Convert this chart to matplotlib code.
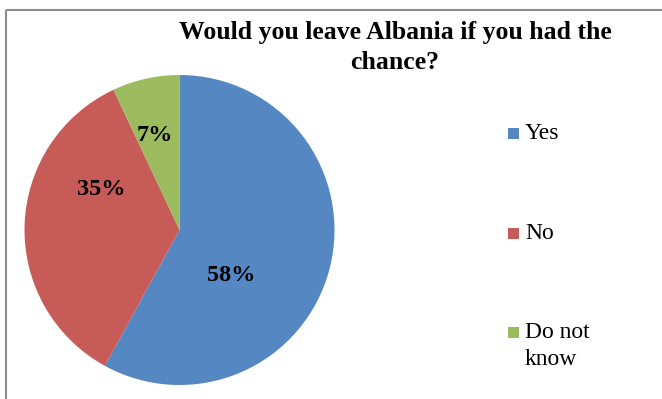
import numpy as np
import matplotlib
matplotlib.use("Agg")
import matplotlib.pyplot as plt
from matplotlib.lines import Line2D

# Survey answers
categories = ["Yes", "No", "Do not\nknow"]
shares = [58, 35, 7]
title = "Would you leave Albania if you had the\nchance?"

colors = ["#5587C3", "#C75B57", "#9CBB5F"]

W, H = 662, 399
fig = plt.figure(figsize=(W / 100, H / 100), dpi=100)
ax = fig.add_axes([0, 0, 1, 1])

def fy(y_from_top):
    return H - y_from_top

center = (179.5, fy(230))
radius = 155

wedges, _ = ax.pie(shares, colors=colors, startangle=90, counterclock=False,
                   center=center, radius=radius,
                   wedgeprops=dict(linewidth=0))

# label placement inside each wedge: (angle in degrees, fraction of radius)
label_pos = [(-41, 0.445), (153, 0.57), (104.9, 0.63)]
for v, (ang, frac) in zip(shares, label_pos):
    a = np.deg2rad(ang)
    ax.text(center[0] + frac * radius * np.cos(a),
            center[1] + frac * radius * np.sin(a),
            f"{v}%", ha="center", va="center",
            family="Liberation Serif", fontweight="bold", fontsize=17.5)

ax.set_xlim(0, W)
ax.set_ylim(0, H)
ax.set_aspect("equal", adjustable="box")
ax.axis("off")

# title
ax.text(395, fy(47.5), title, ha="center", va="center",
        family="Liberation Serif", fontweight="bold", fontsize=18.5,
        linespacing=1.42)

# legend
leg_y = [133, 233, 332]
for c, lab, y in zip(colors, categories, leg_y):
    ax.add_patch(plt.Rectangle((508, fy(y) - 5.5), 11, 11, color=c, lw=0))
    ax.text(525, fy(y) + 10, lab, ha="left", va="top",
            family="Liberation Serif", fontsize=17, linespacing=1.38)

# chart-area border (top and left edges)
border = dict(color="#8C8C8C", lw=1.5, solid_capstyle="butt")
ax.add_line(Line2D([5.5, W], [fy(9.5), fy(9.5)], **border))
ax.add_line(Line2D([5.5, 5.5], [fy(9.5), 0], **border))

fig.savefig("out.png", dpi=100)
